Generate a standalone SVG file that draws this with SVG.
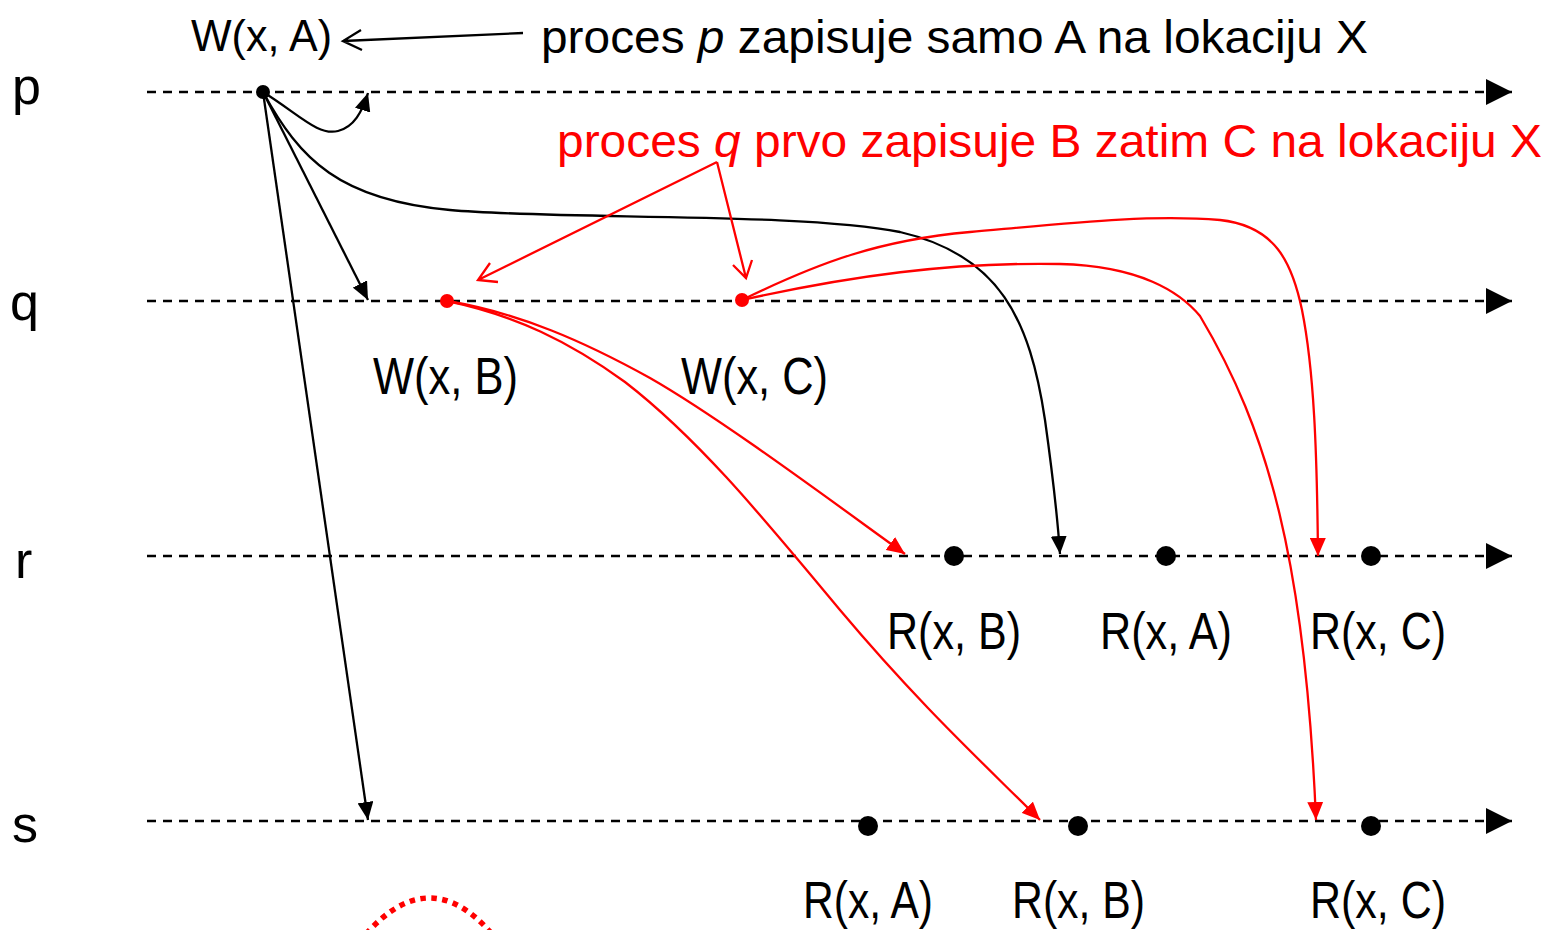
<svg xmlns="http://www.w3.org/2000/svg" width="1553" height="930" viewBox="0 0 1553 930">
  <style>
    .lbl { font-family: "Liberation Sans", Arial, sans-serif; fill: #000; }
    .red { fill: #ff0000; }
    .time { stroke: #000; stroke-width: 2.5; stroke-dasharray: 9 7; fill: none; }
    .blk { stroke: #000; stroke-width: 2.3; fill: none; }
    .rd { stroke: #ff0000; stroke-width: 2.3; fill: none; }
  </style>
  <defs>
    <marker id="endTri" markerUnits="userSpaceOnUse" markerWidth="26" markerHeight="28" refX="26" refY="14" orient="auto">
      <path d="M0,1 L26,14 L0,27 z" fill="#000"/>
    </marker>
    <marker id="arrBlk" markerUnits="userSpaceOnUse" markerWidth="18" markerHeight="16" refX="18" refY="8" orient="auto">
      <path d="M0,0 L18,8 L0,16 z" fill="#000"/>
    </marker>
    <marker id="arrRed" markerUnits="userSpaceOnUse" markerWidth="18" markerHeight="16" refX="18" refY="8" orient="auto">
      <path d="M0,0 L18,8 L0,16 z" fill="#ff0000"/>
    </marker>
  </defs>

  <rect width="1553" height="930" fill="#fff"/>

  <!-- process time lines -->
  <g id="timelines">
    <line class="time" x1="147" y1="92" x2="1512" y2="92" marker-end="url(#endTri)"/>
    <line class="time" x1="147" y1="301" x2="1512" y2="301" marker-end="url(#endTri)"/>
    <line class="time" x1="147" y1="556" x2="1512" y2="556" marker-end="url(#endTri)"/>
    <line class="time" x1="147" y1="821" x2="1512" y2="821" marker-end="url(#endTri)"/>
  </g>

  <!-- process names -->
  <g id="process-labels" class="lbl" font-size="52">
    <text x="12" y="104">p</text>
    <text x="10" y="320">q</text>
    <text x="15" y="578">r</text>
    <text x="12" y="842">s</text>
  </g>

  <!-- messages -->
  <g id="connectors">
    <!-- write A propagated from p -->
    <path class="blk" d="M263,92 C300,115 318,136 338,131 C354,127 362,112 368,93" marker-end="url(#arrBlk)"/>
    <line class="blk" x1="263" y1="92" x2="368" y2="300" marker-end="url(#arrBlk)"/>
    <line class="blk" x1="263" y1="92" x2="368" y2="820" marker-end="url(#arrBlk)"/>
    <path class="blk" d="M263,92 C300,160 340,200 450,210 C560,220 800,212 900,232 C1000,255 1030,320 1045,420 C1052,470 1057,510 1060,554" marker-end="url(#arrBlk)"/>

    <!-- write B propagated from q -->
    <path class="rd" d="M447,301 C520,313 585,342 650,378 C720,418 830,500 905,554" marker-end="url(#arrRed)"/>
    <path class="rd" d="M447,301 C515,315 570,342 625,382 C700,440 765,520 840,610 C920,705 980,760 1040,820" marker-end="url(#arrRed)"/>

    <!-- write C propagated from q -->
    <path class="rd" d="M742,300 C820,262 880,240 970,232 C1070,223 1150,214 1220,220 C1275,226 1292,262 1302,310 C1314,370 1317,450 1318,556" marker-end="url(#arrRed)"/>
    <path class="rd" d="M742,300 C850,276 950,262 1060,264 C1140,266 1180,292 1200,316 C1268,430 1305,560 1316,820" marker-end="url(#arrRed)"/>

    <!-- annotation pointers -->
    <path class="blk" d="M523,33 L343,41 M361,30 L343,41 L362,50"/>
    <path class="rd" d="M717,162 L478,280 M498,282 L478,280 L490,263"/>
    <path class="rd" d="M717,162 L746,278 M733,265 L746,278 L752,260"/>
  </g>

  <!-- events -->
  <g id="w-x-a">
    <circle cx="263" cy="92" r="7" fill="#000"/>
    <text class="lbl" x="191" y="51" font-size="45" textLength="141" lengthAdjust="spacingAndGlyphs">W(x, A)</text>
  </g>
  <g id="w-x-b">
    <circle cx="447" cy="301" r="7" fill="#ff0000"/>
    <text class="lbl" x="373" y="394" font-size="52" textLength="145" lengthAdjust="spacingAndGlyphs">W(x, B)</text>
  </g>
  <g id="w-x-c">
    <circle cx="742" cy="300" r="7" fill="#ff0000"/>
    <text class="lbl" x="681" y="394" font-size="52" textLength="147" lengthAdjust="spacingAndGlyphs">W(x, C)</text>
  </g>
  <g id="r-read-b">
    <circle cx="954" cy="556" r="10" fill="#000"/>
    <text class="lbl" x="887" y="649" font-size="52" textLength="134" lengthAdjust="spacingAndGlyphs">R(x, B)</text>
  </g>
  <g id="r-read-a">
    <circle cx="1166" cy="556" r="10" fill="#000"/>
    <text class="lbl" x="1100" y="649" font-size="52" textLength="132" lengthAdjust="spacingAndGlyphs">R(x, A)</text>
  </g>
  <g id="r-read-c">
    <circle cx="1371" cy="556" r="10" fill="#000"/>
    <text class="lbl" x="1310" y="649" font-size="52" textLength="136" lengthAdjust="spacingAndGlyphs">R(x, C)</text>
  </g>
  <g id="s-read-a">
    <circle cx="868" cy="826" r="10" fill="#000"/>
    <text class="lbl" x="803" y="918" font-size="52" textLength="130" lengthAdjust="spacingAndGlyphs">R(x, A)</text>
  </g>
  <g id="s-read-b">
    <circle cx="1078" cy="826" r="10" fill="#000"/>
    <text class="lbl" x="1012" y="918" font-size="52" textLength="133" lengthAdjust="spacingAndGlyphs">R(x, B)</text>
  </g>
  <g id="s-read-c">
    <circle cx="1371" cy="826" r="10" fill="#000"/>
    <text class="lbl" x="1310" y="918" font-size="52" textLength="136" lengthAdjust="spacingAndGlyphs">R(x, C)</text>
  </g>

  <!-- notes -->
  <g id="note-p">
    <text class="lbl" x="541" y="53" font-size="47" textLength="827" lengthAdjust="spacingAndGlyphs">proces <tspan font-style="italic">p</tspan> zapisuje samo A na lokaciju X</text>
  </g>
  <g id="note-q">
    <text class="lbl red" x="557" y="157" font-size="47" textLength="985" lengthAdjust="spacingAndGlyphs">proces <tspan font-style="italic">q</tspan> prvo zapisuje B zatim C na lokaciju X</text>
  </g>

  <!-- dotted arc at the bottom edge -->
  <path d="M366,934 Q430,862 492,934" fill="none" stroke="#ff0000" stroke-width="5.5" stroke-dasharray="5.5 5.5"/>
</svg>
